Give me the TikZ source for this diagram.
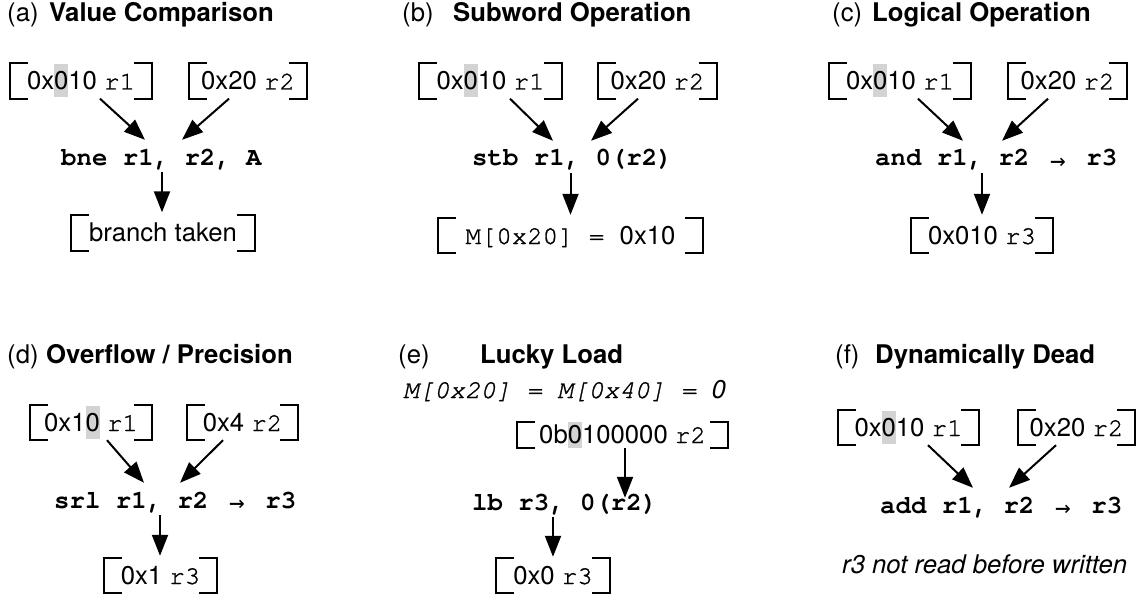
\documentclass[tikz,border=0pt]{standalone}
\usepackage{fontspec}
\setmainfont{TeX Gyre Heros}
\setmonofont{TeX Gyre Cursor}
\newfontfamily\bxmono{TeX Gyre Cursor}[FakeBold=1.2]
\newfontfamily\arrfont{DejaVu Sans Mono}
\usetikzlibrary{arrows.meta,calc}
\definecolor{hlgray}{RGB}{211,211,211}
\newcommand\fs{\fontsize{25.7}{30}\selectfont}
\newcommand\hlz[3]{{\setlength\fboxsep{0pt}\colorbox{hlgray}{\rule[-#1]{0pt}{#2}#3}}}
\newcommand\rg[1]{{\bxmono #1}}
\newcommand\rarr{\makebox[57pt]{\raisebox{-3pt}{\arrfont\mdseries\fontsize{26}{26}\selectfont →}}}
\newcommand\brk[1]{%
  \draw[bkt] ([xshift=18pt]#1.north west) -- (#1.north west) -- (#1.south west) -- ([xshift=18pt]#1.south west);
  \draw[bkt] ([xshift=-18pt]#1.north east) -- (#1.north east) -- (#1.south east) -- ([xshift=-18pt]#1.south east);}
\tikzset{
  reg/.style={font=\fs, inner xsep=0pt, inner ysep=1pt, text height=25pt, text depth=8pt},
  instr/.style={font=\fs\ttfamily\bfseries, anchor=base west, inner xsep=0pt, inner ysep=7pt, text height=18pt, text depth=0pt},
  lbl/.style={font=\fs, anchor=base west, inner sep=0pt},
  ttl/.style={font=\fs\bfseries, anchor=base west, inner sep=0pt},
  note/.style={font=\fs\itshape, anchor=base west, inner sep=0pt},
  bkt/.style={line width=2pt, line join=miter},
  arr/.style={line width=2pt, -{Triangle[length=21pt,width=16pt]}}
}
\begin{document}
\begin{tikzpicture}[x=1pt,y=-1pt]
\useasboundingbox (0,0) rectangle (1139,596);

% (a)
\node[lbl] (la) at (7,22) {(a)};
\node[ttl] (ta) at (49,22) {Value Comparison};
\node[reg, minimum width=142pt] (a1) at (81,81) {0x\hlz{8pt}{33pt}{0}10 \rg{r1}};
\node[reg, minimum width=118pt] (a2) at (248,81) {0x20 \rg{r2}};
\node[instr] (aI) at (61,165) {bne r1, r2, A};
\node[reg, minimum width=184pt] (aR) at (163,233) {branch taken};
\brk{a1}\brk{a2}\brk{aR}
\draw[arr] ([xshift=19pt]a1.south) -- ([xshift=84pt]aI.north west);
\draw[arr] ([xshift=-19pt]a2.south) -- ([xshift=121pt]aI.north west);
\draw[arr] ($(aR.north |- aI.south)+(-1,0)$) -- ($(aR.north)+(-1,-3)$);

% (b)
\node[lbl] (lb) at (402,22) {(b)};
\node[ttl] (tb) at (453,22) {Subword Operation};
\node[reg, minimum width=143pt] (b1) at (490.5,81) {0x\hlz{8pt}{33pt}{0}10 \rg{r1}};
\node[reg, minimum width=119pt] (b2) at (657.5,81) {0x20 \rg{r2}};
\node[instr] (bI) at (472,166) {stb r1, 0(r2)};
\node[reg, minimum width=265pt] (bR) at (570.5,235.5) {\rg{M[0x20] = }0x10};
\brk{b1}\brk{b2}\brk{bR}
\draw[arr] ([xshift=19.5pt]b1.south) -- ([xshift=81pt]bI.north west);
\draw[arr] ([xshift=-19.5pt]b2.south) -- ([xshift=119pt]bI.north west);
\draw[arr] (bR.north |- bI.south) -- ($(bR.north)+(0,-3)$);

% (c)
\node[lbl] (lc) at (832,22) {(c)};
\node[ttl] (tc) at (872,22) {Logical Operation};
\node[reg, minimum width=142pt] (c1) at (900,81) {0x\hlz{8pt}{33pt}{0}10 \rg{r1}};
\node[reg, minimum width=119pt] (c2) at (1067.5,81) {0x20 \rg{r2}};
\node[instr] (cI) at (875,166) {and r1, r2\rarr{}r3};
\node[reg, minimum width=142pt] (cR) at (982,235.5) {0x010 \rg{r3}};
\brk{c1}\brk{c2}\brk{cR}
\draw[arr] ([xshift=18pt]c1.south) -- ([xshift=88pt]cI.north west);
\draw[arr] ([xshift=-19.5pt]c2.south) -- ([xshift=127pt]cI.north west);
\draw[arr] (cR.north |- cI.south) -- ($(cR.north)+(0,-3)$);

% (d)
\node[lbl] (ld) at (7,363) {(d)};
\node[ttl] (td) at (46,363) {Overflow / Precision};
\node[reg, minimum width=122pt] (d1) at (91,422.5) {0x1\hlz{8pt}{33pt}{0} \rg{r1}};
\node[reg, minimum width=111pt] (d2) at (242.5,422.5) {0x4 \rg{r2}};
\node[instr] (dI) at (54,508) {srl r1, r2\rarr{}r3};
\node[reg, minimum width=113pt] (dR) at (160.5,575.5) {0x1 \rg{r3}};
\brk{d1}\brk{d2}\brk{dR}
\draw[arr] ([xshift=16pt]d1.south) -- ([xshift=90pt]dI.north west);
\draw[arr] ([xshift=-19.5pt]d2.south) -- ([xshift=126pt]dI.north west);
\draw[arr] ($(dR.north |- dI.south)+(-0.5,0)$) -- ($(dR.north)+(-0.5,-2)$);

% (e)
\node[lbl] (le) at (398,363) {(e)};
\node[ttl] (te) at (480,363) {Lucky Load};
\node[lbl, font=\fs\bxmono\itshape] (eM) at (403,398) {M[0x20] = M[0x40] = {\rmfamily 0}};
\node[reg, minimum width=211pt, text height=21pt, text depth=5pt, inner ysep=0pt] (e2) at (622.5,435) {0b\hlz{5pt}{26pt}{0}100000 \rg{r2}\hspace{10pt}};
\node[instr] (eI) at (472,510) {lb r3, 0(r2)};
\node[reg, minimum width=113pt] (eR) at (553,575.5) {0x0 \rg{r3}};
\brk{e2}\brk{eR}
\draw[arr] ([xshift=2.5pt]e2.south) -- ($(e2.south |- eI.north)+(2.5,13)$);
\draw[arr] (eR.north |- eI.south) -- ($(eR.north)+(0,-1)$);

% (f)
\node[lbl] (lf) at (835,363) {(f)};
\node[ttl] (tf) at (875,363) {Dynamically Dead};
\node[reg, minimum width=141pt] (f1) at (908.5,427.5) {0x\hlz{8pt}{33pt}{0}10 \rg{r1}};
\node[reg, minimum width=117pt] (f2) at (1076.5,427.5) {0x20 \rg{r2}};
\node[instr] (fI) at (880,513) {add r1, r2\rarr{}r3};
\node[note] (fN) at (842,573) {r3 not read before written};
\brk{f1}\brk{f2}
\draw[arr] ([xshift=19.5pt]f1.south) -- ([xshift=93pt]fI.north west);
\draw[arr] ([xshift=-20.5pt]f2.south) -- ([xshift=129pt]fI.north west);
\end{tikzpicture}
\end{document}
